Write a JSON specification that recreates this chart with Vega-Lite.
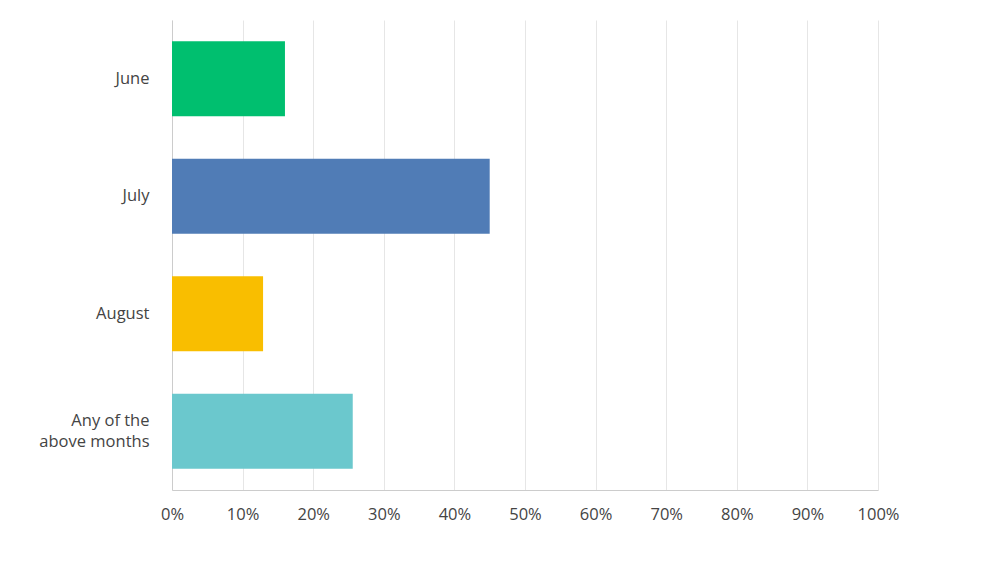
{
  "$schema": "https://vega.github.io/schema/vega-lite/v6.json",
  "width": 706,
  "height": 470,
  "autosize": "none",
  "padding": {"left": 172, "top": 20, "right": 121, "bottom": 71},
  "background": "white",
  "data": {
    "values": [
      {"answer": "June", "share": 0.16},
      {"answer": "July", "share": 0.45},
      {"answer": "August", "share": 0.129},
      {"answer": "Any of the above months", "share": 0.256}
    ]
  },
  "mark": {"type": "bar"},
  "encoding": {
    "y": {
      "field": "answer",
      "type": "nominal",
      "sort": null,
      "title": null,
      "scale": {"paddingInner": 0.36, "paddingOuter": 0.18},
      "axis": {
        "ticks": false,
        "domain": true,
        "domainColor": "#cccccc",
        "labelPadding": 23,
        "labelFont": "Open Sans",
        "labelFontSize": 16.5,
        "labelColor": "#444444",
        "labelLineHeight": 21,
        "labelOffset": {"condition": {"test": "datum.value == 'Any of the above months'", "value": -10}, "value": 0},
        "labelExpr": "datum.label == 'Any of the above months' ? ['Any of the', 'above months'] : datum.label"
      }
    },
    "x": {
      "field": "share",
      "type": "quantitative",
      "title": null,
      "scale": {"domain": [0, 1]},
      "axis": {
        "format": ".0%",
        "values": [0, 0.1, 0.2, 0.3, 0.4, 0.5, 0.6, 0.7, 0.8, 0.9, 1],
        "ticks": false,
        "domainColor": "#cccccc",
        "grid": true,
        "gridColor": "#e6e6e6",
        "labelPadding": 16,
        "labelFont": "Open Sans",
        "labelFontSize": 16.5,
        "labelColor": "#444444",
        "labelFlush": false
      }
    },
    "color": {
      "field": "answer",
      "type": "nominal",
      "legend": null,
      "scale": {
        "domain": ["June", "July", "August", "Any of the above months"],
        "range": ["#00bf6f", "#507cb6", "#f9be00", "#6bc8cd"]
      }
    }
  },
  "config": {
    "view": {"stroke": null}
  }
}
